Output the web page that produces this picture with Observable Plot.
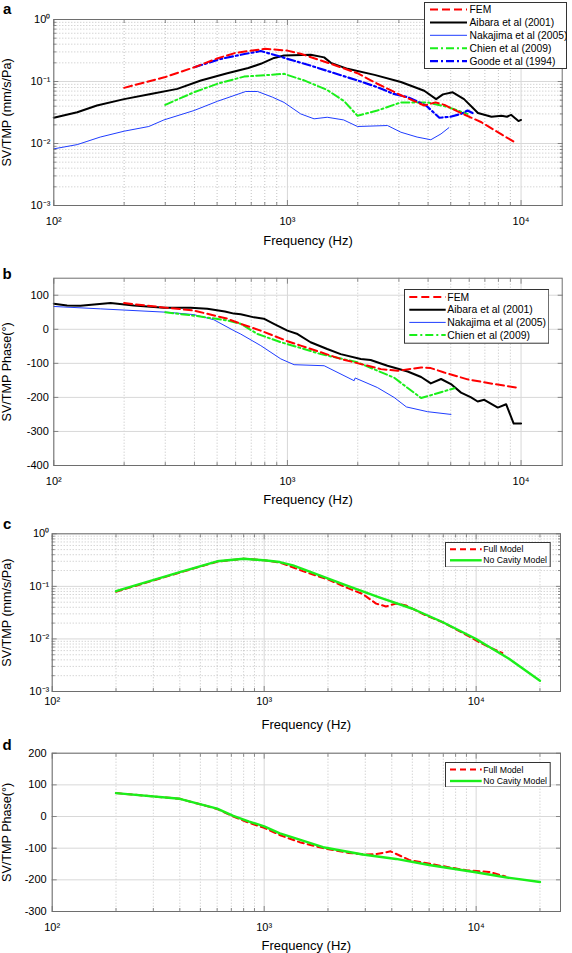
<!DOCTYPE html>
<html><head><meta charset="utf-8">
<script src="https://cdn.jsdelivr.net/npm/d3@7"></script>
<script src="https://cdn.jsdelivr.net/npm/@observablehq/plot@0.6"></script>
<style>
html,body{margin:0;padding:0;background:#fff;}
#root{position:relative;width:572px;height:953px;overflow:hidden;font-family:"Liberation Sans",Arial,sans-serif;}
#root > .panel{position:absolute;left:0;}
#root > svg.legend{position:absolute;}
</style></head>
<body><div id="root"></div>
<script>
// ---------- tick values and labels ----------
const xTickValues = [100, 1000, 10000];
const xTickLabels = ["10²", "10³", "10⁴"];
const ampTickValues = [0.001, 0.01, 0.1, 1];
const ampTickLabels = ["10⁻³", "10⁻²", "10⁻¹", "10⁰"];
const phaseTicksB = [-400, -300, -200, -100, 0, 100];
const phaseTicksD = [-300, -200, -100, 0, 100, 200];

// ---------- panel a : amplitude (Hz, mm/s/Pa) ----------
const femAmp = [[200,0.079],[300,0.118],[400,0.17],[500,0.235],[600,0.29],[800,0.337],[1000,0.315],[1140,0.28],[1534,0.193],[1995,0.136],[2425,0.092],[3060,0.06],[3850,0.041],[4300,0.046],[4700,0.042],[5534,0.031],[6770,0.022],[8250,0.014],[9400,0.0105]];
const aibaraAmp = [[100,0.026],[126,0.032],[153,0.041],[200,0.052],[260,0.063],[338,0.076],[426,0.104],[553,0.136],[680,0.165],[769,0.193],[877,0.24],[967,0.263],[1258,0.27],[1436,0.245],[1534,0.2],[1810,0.16],[2360,0.128],[3060,0.098],[3850,0.071],[4330,0.052],[4630,0.062],[5100,0.067],[5700,0.052],[6540,0.031],[7470,0.027],[8250,0.028],[8700,0.027],[9058,0.029],[9746,0.023],[10000,0.024]];
const nakajimaAmp = [[100,0.0082],[126,0.0096],[158,0.0127],[200,0.0158],[255,0.0188],[296,0.024],[398,0.034],[502,0.048],[663,0.069],[745,0.069],[862,0.056],[967,0.046],[1140,0.030],[1300,0.025],[1480,0.0265],[1740,0.024],[1995,0.0188],[2680,0.0195],[3060,0.0152],[3590,0.0127],[4110,0.0115],[4545,0.0143],[4910,0.018]];
const chienAmp = [[300,0.042],[398,0.067],[502,0.092],[652,0.12],[769,0.125],[967,0.133],[1180,0.104],[1480,0.073],[1750,0.048],[1995,0.028],[2425,0.034],[3060,0.046],[3980,0.046],[4830,0.039],[5900,0.030]];
const goodeAmp = [[400,0.17],[518,0.232],[663,0.28],[769,0.31],[907,0.26],[1000,0.232],[1258,0.18],[1534,0.142],[1995,0.104],[2425,0.081],[2850,0.063],[3270,0.056],[3920,0.041],[4470,0.026],[4980,0.027],[5530,0.030],[5900,0.034],[6200,0.031]];

// ---------- panel b : phase (Hz, degrees) ----------
const femPhase = [[200,77],[287,65],[398,55],[553,31],[631,16],[769,-4],[1000,-35],[1140,-48],[1690,-87],[2513,-117],[2960,-122],[3735,-112],[4110,-114],[4690,-127],[5900,-147],[7700,-161],[9540,-171]];
const aibaraPhase = [[100,75],[114,70],[130,69],[175,77],[220,70],[296,63],[385,63],[454,60],[540,52],[590,46],[631,44],[720,35],[792,31],[875,16],[1000,-4],[1105,-14],[1256,-38],[1480,-58],[1690,-73],[2060,-87],[2270,-90],[2680,-107],[3270,-124],[3735,-140],[4110,-159],[4545,-146],[5010,-161],[5534,-186],[6110,-200],[6520,-212],[6960,-207],[7950,-230],[8630,-220],[9300,-277],[10000,-277]];
const nakajimaPhase = [[100,67],[158,60],[306,50],[398,43],[484,28],[590,-4],[631,-14],[769,-48],[937,-87],[1068,-104],[1436,-107],[1930,-151],[1950,-143],[2425,-171],[2860,-200],[3230,-228],[3980,-242],[5010,-250]];
const chienPhase = [[300,50],[398,40],[553,26],[631,16],[745,-14],[937,-38],[1140,-55],[1390,-73],[1995,-97],[2860,-142],[3735,-202],[5190,-173]];

// ---------- panel c : full model vs no cavity (amplitude) ----------
const fullModelAmp = [[200,0.079],[400,0.183],[600,0.295],[800,0.335],[1000,0.315],[1200,0.28],[1534,0.193],[2000,0.135],[2440,0.095],[2910,0.072],[3373,0.047],[3758,0.0415],[4190,0.047],[4670,0.0434],[5800,0.028],[7000,0.0205],[8500,0.0135],[10330,0.0087],[11500,0.0070],[13290,0.0054]];
const noCavityAmp = [[200,0.081],[400,0.186],[600,0.30],[800,0.335],[1025,0.31],[1184,0.29],[1368,0.25],[1700,0.18],[2440,0.104],[3490,0.062],[5010,0.0375],[6930,0.021],[9950,0.0101],[14290,0.0042],[20000,0.0016]];

// ---------- panel d : full model vs no cavity (phase) ----------
const fullModelPhase = [[200,74],[400,56],[600,24],[715,0],[850,-20],[1000,-36],[1200,-60],[1470,-81],[1900,-100],[2500,-115],[3000,-120],[3373,-119],[3950,-110],[4830,-137],[5780,-147],[7000,-157],[9000,-170],[11500,-175],[13750,-189]];
const noCavityPhase = [[200,74],[400,56],[600,25],[715,2],[850,-16],[1000,-31],[1186,-53],[1420,-70],[1895,-97],[2920,-120],[4190,-134],[6000,-153],[9950,-176],[13750,-192],[20000,-207]];

// ---------- styles ----------
const RED = "#ff0000", BLACK = "#000000", BLUE = "#1f3dff", BLUE2 = "#0000ff", GREEN = "#1aef1a";
const FRAME = "#6e6e6e";
const FONT = "'Liberation Sans', Arial, sans-serif";

function logMinor([a, b]) {
  const out = [];
  for (let e = Math.floor(Math.log10(a)); e <= Math.ceil(Math.log10(b)); e++)
    for (let m = 2; m <= 9; m++) { const v = m * Math.pow(10, e); if (v > a * 1.0001 && v < b * 0.9999) out.push(v); }
  return out;
}
function within(vals, [a, b]) { const lo = Math.min(a, b), hi = Math.max(a, b); return vals.filter(v => v >= lo - 1e-9 && v <= hi + 1e-9); }

function panel(c) {
  const xMajor = within(xTickValues, c.xDomain);
  const xMinor = logMinor(c.xDomain);
  const yMajor = within(c.yTicks, c.yDomain);
  const yMinor = c.yType === "log" ? logMinor(c.yDomain) : [];
  const xFmt = v => xTickLabels[xTickValues.indexOf(v)];
  const yFmt = v => c.yLabels[c.yTicks.indexOf(v)];
  const tickOpt = {fill: "none", stroke: FRAME, label: null, strokeWidth: 0.8};
  const marks = [
    Plot.ruleX(xMinor, {stroke: "#9a9a9a", strokeWidth: 0.6, strokeDasharray: "1,2"}),
    yMinor.length ? Plot.ruleY(yMinor, {stroke: "#9a9a9a", strokeWidth: 0.6, strokeDasharray: "1,2"}) : null,
    Plot.ruleX(xMajor, {stroke: "#d8d8d8", strokeWidth: 1}),
    Plot.ruleY(yMajor, {stroke: "#d8d8d8", strokeWidth: 1}),
    ...c.series.map(s => Plot.line(s.data, {x: d => d[0], y: d => d[1], stroke: s.color, strokeWidth: s.width, strokeDasharray: s.dash || null, strokeLinejoin: "round"})),
    Plot.frame({stroke: FRAME, strokeWidth: 1}),
    Plot.axisX(xMajor, {anchor: "bottom", tickSize: 0, tickPadding: c.xPad, tickFormat: xFmt, fontSize: 11, label: null}),
    Plot.axisX(xMajor, {anchor: "bottom", tickSize: -5, ...tickOpt}),
    Plot.axisX(xMajor, {anchor: "top", tickSize: -5, ...tickOpt}),
    Plot.axisX(xMinor, {anchor: "bottom", tickSize: -3, ...tickOpt}),
    Plot.axisX(xMinor, {anchor: "top", tickSize: -3, ...tickOpt}),
    Plot.axisY(yMajor, {anchor: "left", tickSize: 0, tickPadding: c.yPad, tickFormat: yFmt, fontSize: 11, label: null}),
    Plot.axisY(yMajor, {anchor: "left", tickSize: -5, ...tickOpt}),
    Plot.axisY(yMajor, {anchor: "right", tickSize: -5, ...tickOpt}),
    yMinor.length ? Plot.axisY(yMinor, {anchor: "left", tickSize: -3, ...tickOpt}) : null,
    yMinor.length ? Plot.axisY(yMinor, {anchor: "right", tickSize: -3, ...tickOpt}) : null,
    Plot.text([c.letter], {text: d => d, frameAnchor: "top-left", textAnchor: "middle", lineAnchor: "middle", dx: c.letterDx, dy: c.letterDy, fontSize: 15, fontWeight: "bold", fill: "#000"}),
    Plot.text([c.yLabel], {text: d => d, frameAnchor: "left", rotate: -90, textAnchor: "middle", lineAnchor: "middle", dx: c.yLabelDx, fontSize: 12.6, fill: "#000"}),
    Plot.text(["Frequency (Hz)"], {text: d => d, frameAnchor: "bottom", textAnchor: "middle", lineAnchor: "middle", dy: c.xLabelDy, fontSize: 13, fill: "#000"})
  ];
  const svg = Plot.plot({
    width: 572, height: c.height,
    marginTop: c.mt, marginBottom: c.mb, marginLeft: c.ml, marginRight: c.mr,
    x: {type: "log", domain: c.xDomain},
    y: {type: c.yType, domain: c.yDomain},
    style: {fontFamily: FONT, fontSize: "11px", color: "#000", background: "transparent", overflow: "visible"},
    marks
  });
  svg.classList.add("panel");
  svg.style.top = c.top + "px";
  return svg;
}

function legend(root, c) {
  const svg = d3.select(root).append("svg").attr("class", "legend")
    .attr("width", c.w).attr("height", c.h)
    .style("left", c.left + "px").style("top", c.top + "px");
  svg.append("rect").attr("x", 0.5).attr("y", 0.5).attr("width", c.w - 1).attr("height", c.h - 1)
    .attr("fill", "#fff").attr("stroke", "#333").attr("stroke-width", 1);
  c.items.forEach((it, i) => {
    const y = c.y0 + i * c.dy;
    svg.append("line").attr("x1", c.s0).attr("x2", c.s1).attr("y1", y).attr("y2", y)
      .attr("stroke", it.color).attr("stroke-width", it.width).attr("stroke-dasharray", it.dash || null);
    svg.append("text").attr("x", c.tx).attr("y", y).attr("dy", "0.35em")
      .attr("font-family", FONT).attr("font-size", c.fs).attr("fill", "#000").text(it.name);
  });
}

const root = document.getElementById("root");
const sFEM = {name: "FEM", color: RED, width: 2, dash: "8,4"};
const sAib = {name: "Aibara et al (2001)", color: BLACK, width: 2};
const sNak = {name: "Nakajima et al (2005)", color: BLUE, width: 1};
const sChi = {name: "Chien et al (2009)", color: GREEN, width: 2, dash: "8,3,2,3"};
const sGoo = {name: "Goode et al (1994)", color: BLUE2, width: 2.2, dash: "8,3,2,3"};
const sFull = {name: "Full Model", color: RED, width: 2, dash: "6,4"};
const sNoCav = {name: "No Cavity Model", color: GREEN, width: 2.4};

root.appendChild(panel({
  top: 0, height: 250, mt: 19, mb: 45, ml: 53.3, mr: 10.3,
  xDomain: [100, 15000], yType: "log", yDomain: [0.001, 1],
  yTicks: ampTickValues, yLabels: ampTickLabels, yLabel: "SV/TMP (mm/s/Pa)",
  letter: "a", letterDx: -46.6, letterDy: -10.7, yLabelDx: -46.5, xLabelDy: 35, xPad: 11.5, yPad: 3.5,
  series: [
    {...sNak, data: nakajimaAmp}, {...sAib, data: aibaraAmp}, {...sChi, data: chienAmp},
    {...sGoo, data: goodeAmp}, {...sFEM, data: femAmp}
  ]
}));
root.appendChild(panel({
  top: 250, height: 255, mt: 27.7, mb: 40, ml: 53.3, mr: 10.3,
  xDomain: [100, 15000], yType: "linear", yDomain: [-400, 150],
  yTicks: phaseTicksB, yLabels: phaseTicksB.map(String), yLabel: "SV/TMP Phase(°)",
  letter: "b", letterDx: -46.6, letterDy: -4.4, yLabelDx: -46.5, xLabelDy: 34.5, xPad: 11.5, yPad: 5,
  series: [
    {...sNak, data: nakajimaPhase}, {...sAib, data: aibaraPhase}, {...sChi, data: chienPhase}, {...sFEM, data: femPhase}
  ]
}));
root.appendChild(panel({
  top: 505, height: 225, mt: 28.3, mb: 39, ml: 51.7, mr: 12,
  xDomain: [100, 25000], yType: "log", yDomain: [0.001, 1],
  yTicks: ampTickValues, yLabels: ampTickLabels, yLabel: "SV/TMP (mm/s/Pa)",
  letter: "c", letterDx: -45, letterDy: -10, yLabelDx: -45, xLabelDy: 33.5, xPad: 6, yPad: 3,
  series: [{...sFull, data: fullModelAmp}, {...sNoCav, data: noCavityAmp}]
}));
root.appendChild(panel({
  top: 730, height: 223, mt: 22.7, mb: 42, ml: 51.7, mr: 12,
  xDomain: [100, 25000], yType: "linear", yDomain: [-300, 200],
  yTicks: phaseTicksD, yLabels: phaseTicksD.map(String), yLabel: "SV/TMP Phase(°)",
  letter: "d", letterDx: -45, letterDy: -7.7, yLabelDx: -45.2, xLabelDy: 34, xPad: 11.5, yPad: 5.5,
  series: [{...sFull, data: fullModelPhase}, {...sNoCav, data: noCavityPhase}]
}));

legend(root, {left: 424, top: 2, w: 143, h: 67, y0: 7.5, dy: 12.9, s0: 6, s1: 43, tx: 45.5, fs: 10.3,
  items: [sFEM, sAib, sNak, sChi, sGoo]});
legend(root, {left: 404, top: 289.3, w: 145.3, h: 54.7, y0: 8, dy: 12.7, s0: 5.3, s1: 41.7, tx: 43.3, fs: 10.4,
  items: [sFEM, sAib, sNak, sChi]});
legend(root, {left: 445, top: 541.7, w: 105.7, h: 25.6, y0: 7.3, dy: 11, s0: 5, s1: 36.7, tx: 38.3, fs: 8.7,
  items: [sFull, sNoCav]});
legend(root, {left: 445, top: 761.7, w: 105.7, h: 25.6, y0: 7.6, dy: 11.4, s0: 5, s1: 36.7, tx: 38.3, fs: 8.7,
  items: [sFull, sNoCav]});
</script>
</body></html>
